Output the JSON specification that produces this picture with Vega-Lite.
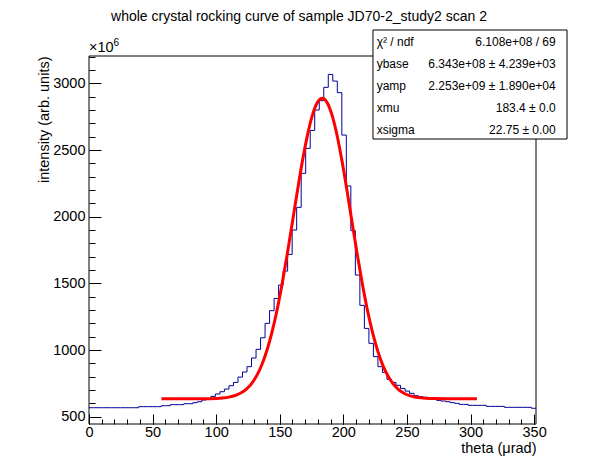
{
  "$schema": "https://vega.github.io/schema/vega-lite/v6.json",
  "width": 447,
  "height": 368,
  "autosize": "none",
  "padding": {"left": 89, "top": 56, "right": 60, "bottom": 48},
  "background": "white",
  "title": {
    "text": "whole crystal rocking curve of sample JD70-2_study2 scan 2",
    "font": "Liberation Sans",
    "fontSize": 14,
    "fontWeight": "normal",
    "color": "black",
    "anchor": "middle",
    "frame": "group",
    "dx": -13.5,
    "dy": 16,
    "offset": 11,
    "baseline": "alphabetic"
  },
  "config": {
    "view": {"stroke": null},
    "font": "Liberation Sans",
    "text": {"font": "Liberation Sans", "color": "black"}
  },
  "datasets": {
    "hist": [
      {"theta": 0, "intensity": 567}, {"theta": 3.55, "intensity": 567}, {"theta": 7.1, "intensity": 567},
      {"theta": 10.65, "intensity": 567}, {"theta": 14.2, "intensity": 567}, {"theta": 17.75, "intensity": 567},
      {"theta": 21.3, "intensity": 567}, {"theta": 24.85, "intensity": 567}, {"theta": 28.4, "intensity": 567},
      {"theta": 31.95, "intensity": 567}, {"theta": 35.5, "intensity": 567}, {"theta": 39.05, "intensity": 575},
      {"theta": 42.6, "intensity": 575}, {"theta": 46.15, "intensity": 575}, {"theta": 49.7, "intensity": 575},
      {"theta": 53.25, "intensity": 575}, {"theta": 56.8, "intensity": 582}, {"theta": 60.35, "intensity": 582},
      {"theta": 63.9, "intensity": 590}, {"theta": 67.45, "intensity": 590}, {"theta": 71.0, "intensity": 590},
      {"theta": 74.55, "intensity": 597}, {"theta": 78.1, "intensity": 597}, {"theta": 81.65, "intensity": 605},
      {"theta": 85.2, "intensity": 612}, {"theta": 88.75, "intensity": 625}, {"theta": 92.3, "intensity": 635},
      {"theta": 95.85, "intensity": 652}, {"theta": 99.4, "intensity": 670}, {"theta": 102.95, "intensity": 687},
      {"theta": 106.5, "intensity": 707}, {"theta": 110.05, "intensity": 732}, {"theta": 113.6, "intensity": 757},
      {"theta": 117.15, "intensity": 797}, {"theta": 120.7, "intensity": 835}, {"theta": 124.25, "intensity": 875},
      {"theta": 127.8, "intensity": 940}, {"theta": 131.35, "intensity": 1005}, {"theta": 134.9, "intensity": 1092},
      {"theta": 138.45, "intensity": 1200}, {"theta": 142.0, "intensity": 1295}, {"theta": 145.55, "intensity": 1387},
      {"theta": 149.1, "intensity": 1487}, {"theta": 152.65, "intensity": 1592}, {"theta": 156.2, "intensity": 1717},
      {"theta": 159.75, "intensity": 1900}, {"theta": 163.3, "intensity": 2070}, {"theta": 166.85, "intensity": 2325},
      {"theta": 170.4, "intensity": 2512}, {"theta": 173.95, "intensity": 2647}, {"theta": 177.5, "intensity": 2800},
      {"theta": 181.05, "intensity": 2870}, {"theta": 184.6, "intensity": 2970}, {"theta": 188.15, "intensity": 3067},
      {"theta": 191.7, "intensity": 3017}, {"theta": 195.25, "intensity": 2930}, {"theta": 198.8, "intensity": 2612},
      {"theta": 202.35, "intensity": 2230}, {"theta": 205.9, "intensity": 1895}, {"theta": 209.45, "intensity": 1562},
      {"theta": 213.0, "intensity": 1335}, {"theta": 216.55, "intensity": 1162}, {"theta": 220.1, "intensity": 1050},
      {"theta": 223.65, "intensity": 950}, {"theta": 227.2, "intensity": 875}, {"theta": 230.75, "intensity": 832},
      {"theta": 234.3, "intensity": 780}, {"theta": 237.85, "intensity": 757}, {"theta": 241.4, "intensity": 735},
      {"theta": 244.95, "intensity": 712}, {"theta": 248.5, "intensity": 692}, {"theta": 252.05, "intensity": 675},
      {"theta": 255.6, "intensity": 657}, {"theta": 259.15, "intensity": 650}, {"theta": 262.7, "intensity": 645},
      {"theta": 266.25, "intensity": 635}, {"theta": 269.8, "intensity": 635}, {"theta": 273.35, "intensity": 622},
      {"theta": 276.9, "intensity": 617}, {"theta": 280.45, "intensity": 612}, {"theta": 284.0, "intensity": 605},
      {"theta": 287.55, "intensity": 600}, {"theta": 291.1, "intensity": 592}, {"theta": 294.65, "intensity": 592},
      {"theta": 298.2, "intensity": 585}, {"theta": 301.75, "intensity": 585}, {"theta": 305.3, "intensity": 585},
      {"theta": 308.85, "intensity": 585}, {"theta": 312.4, "intensity": 577}, {"theta": 315.95, "intensity": 577},
      {"theta": 319.5, "intensity": 577}, {"theta": 323.05, "intensity": 577}, {"theta": 326.6, "intensity": 570},
      {"theta": 330.15, "intensity": 570}, {"theta": 333.7, "intensity": 570}, {"theta": 337.25, "intensity": 570},
      {"theta": 340.8, "intensity": 570}, {"theta": 344.35, "intensity": 570}, {"theta": 347.9, "intensity": 563},
      {"theta": 351.45, "intensity": 563}
    ],
    "fit": [
      {"theta": 57, "intensity": 634.3}, {"theta": 70, "intensity": 634.3}, {"theta": 80, "intensity": 634.4},
      {"theta": 90, "intensity": 634.8}, {"theta": 100, "intensity": 637.0}, {"theta": 105, "intensity": 640.2},
      {"theta": 110, "intensity": 646.7}, {"theta": 115, "intensity": 658.8}, {"theta": 120, "intensity": 680.7},
      {"theta": 124, "intensity": 708.9}, {"theta": 128, "intensity": 750.4}, {"theta": 132, "intensity": 809.8},
      {"theta": 136, "intensity": 891.4}, {"theta": 140, "intensity": 999.5}, {"theta": 144, "intensity": 1137.1},
      {"theta": 148, "intensity": 1305.7}, {"theta": 152, "intensity": 1503.4}, {"theta": 156, "intensity": 1725.1},
      {"theta": 160, "intensity": 1961.7}, {"theta": 164, "intensity": 2200.5}, {"theta": 168, "intensity": 2426.0},
      {"theta": 172, "intensity": 2621.4}, {"theta": 176, "intensity": 2771.2}, {"theta": 180, "intensity": 2862.3},
      {"theta": 183.4, "intensity": 2887.3}, {"theta": 187, "intensity": 2859.3}, {"theta": 191, "intensity": 2765.0},
      {"theta": 195, "intensity": 2612.7}, {"theta": 199, "intensity": 2415.3}, {"theta": 203, "intensity": 2188.8},
      {"theta": 207, "intensity": 1949.8}, {"theta": 211, "intensity": 1713.6}, {"theta": 215, "intensity": 1492.9},
      {"theta": 219, "intensity": 1296.5}, {"theta": 223, "intensity": 1129.5}, {"theta": 227, "intensity": 993.4},
      {"theta": 231, "intensity": 886.7}, {"theta": 235, "intensity": 806.3}, {"theta": 239, "intensity": 747.9},
      {"theta": 243, "intensity": 707.1}, {"theta": 247, "intensity": 679.5}, {"theta": 252, "intensity": 658.2},
      {"theta": 257, "intensity": 646.3}, {"theta": 261, "intensity": 641.0}, {"theta": 265, "intensity": 637.9},
      {"theta": 272, "intensity": 635.4}, {"theta": 280, "intensity": 634.6}, {"theta": 290, "intensity": 634.3},
      {"theta": 305, "intensity": 634.3}
    ],
    "stats": [
      {
        "labels": "χ² / ndf\nybase\nyamp\nxmu\nxsigma",
        "values": "6.108e+08 / 69\n6.343e+08 ± 4.239e+03\n2.253e+09 ± 1.890e+04\n183.4 ± 0.0\n22.75 ± 0.00"
      }
    ]
  },
  "resolve": {"axis": {"x": "independent", "y": "independent"}},
  "layer": [
    {
      "data": {"values": [{}]},
      "mark": {"type": "rect", "filled": false, "stroke": "black", "strokeWidth": 1},
      "encoding": {
        "x": {
          "datum": 0,
          "type": "quantitative",
          "scale": {"domain": [0, 351.5], "nice": false, "zero": false},
          "axis": {
            "orient": "bottom",
            "values": [0, 10, 20, 30, 40, 50, 60, 70, 80, 90, 100, 110, 120, 130, 140, 150, 160, 170, 180, 190, 200, 210, 220, 230, 240, 250, 260, 270, 280, 290, 300, 310, 320, 330, 340, 350],
            "labels": false,
            "domain": false,
            "grid": false,
            "tickColor": "black",
            "tickSize": 5,
            "offset": -5,
            "title": null
          }
        },
        "x2": {"datum": 351.5},
        "y": {
          "datum": 445,
          "type": "quantitative",
          "scale": {"domain": [445, 3205], "nice": false, "zero": false},
          "axis": {
            "orient": "left",
            "values": [500, 600, 700, 800, 900, 1000, 1100, 1200, 1300, 1400, 1500, 1600, 1700, 1800, 1900, 2000, 2100, 2200, 2300, 2400, 2500, 2600, 2700, 2800, 2900, 3000, 3100, 3200],
            "labels": false,
            "domain": false,
            "grid": false,
            "tickColor": "black",
            "tickSize": 6,
            "offset": -6,
            "title": null
          }
        },
        "y2": {"datum": 3205}
      }
    },
    {
      "layer": [
        {
          "data": {"name": "hist"},
          "mark": {"type": "line", "interpolate": "step-after", "color": "#000099", "strokeWidth": 1},
          "encoding": {
            "x": {
              "field": "theta",
              "type": "quantitative",
              "title": "theta (μrad)",
              "scale": {"domain": [0, 351.5], "nice": false, "zero": false},
              "axis": {
                "orient": "bottom",
                "values": [0, 50, 100, 150, 200, 250, 300, 350],
                "format": "d",
                "labelFontSize": 14.5,
                "labelColor": "black",
                "labelPadding": 1.5,
                "labelOverlap": false,
                "labelFlush": false,
                "labelBound": false,
                "tickColor": "black",
                "tickSize": 10,
                "offset": -10,
                "domain": false,
                "grid": false,
                "titleFontSize": 14.5,
                "titleFontWeight": "normal",
                "titleColor": "black",
                "titleAnchor": "end",
                "titlePadding": 2
              }
            },
            "y": {
              "field": "intensity",
              "type": "quantitative",
              "title": "intensity (arb. units)",
              "scale": {"domain": [445, 3205], "nice": false, "zero": false},
              "axis": {
                "orient": "left",
                "values": [500, 1000, 1500, 2000, 2500, 3000],
                "format": "d",
                "labelFontSize": 14.5,
                "labelColor": "black",
                "labelPadding": 4,
                "labelOverlap": false,
                "labelFlush": false,
                "labelBound": false,
                "tickColor": "black",
                "tickSize": 12,
                "offset": -12,
                "domain": false,
                "grid": false,
                "titleFontSize": 14.5,
                "titleFontWeight": "normal",
                "titleColor": "black",
                "titleAnchor": "end",
                "titlePadding": 1
              }
            }
          }
        },
        {
          "data": {"name": "fit"},
          "mark": {"type": "line", "interpolate": "monotone", "color": "#ff0000", "strokeWidth": 3},
          "encoding": {
            "x": {"field": "theta", "type": "quantitative", "title": "theta (μrad)"},
            "y": {"field": "intensity", "type": "quantitative", "title": "intensity (arb. units)"}
          }
        },
        {
          "data": {"values": [{}]},
          "mark": {"type": "rect", "fill": "white", "stroke": "black", "strokeWidth": 1},
          "encoding": {
            "x": {"datum": 223.3, "type": "quantitative", "title": "theta (μrad)"},
            "x2": {"datum": 375.9},
            "y": {"datum": 3400, "type": "quantitative", "title": "intensity (arb. units)"},
            "y2": {"datum": 2582.5}
          }
        },
        {
          "data": {"name": "stats"},
          "mark": {"type": "text", "align": "left", "baseline": "alphabetic", "fontSize": 12, "lineBreak": "\n", "lineHeight": 22.1},
          "encoding": {
            "x": {"datum": 226.2, "type": "quantitative", "title": "theta (μrad)"},
            "y": {"datum": 3281.5, "type": "quantitative", "title": "intensity (arb. units)"},
            "text": {"field": "labels"}
          }
        },
        {
          "data": {"name": "stats"},
          "mark": {"type": "text", "align": "right", "baseline": "alphabetic", "fontSize": 12, "lineBreak": "\n", "lineHeight": 22.1},
          "encoding": {
            "x": {"datum": 367.0, "type": "quantitative", "title": "theta (μrad)"},
            "y": {"datum": 3281.5, "type": "quantitative", "title": "intensity (arb. units)"},
            "text": {"field": "values"}
          }
        },
        {
          "data": {"values": [{}]},
          "mark": {"type": "text", "text": "×10", "align": "left", "baseline": "alphabetic", "fontSize": 14.5, "dy": -4},
          "encoding": {
            "x": {"datum": 0, "type": "quantitative", "title": "theta (μrad)"},
            "y": {"datum": 3205, "type": "quantitative", "title": "intensity (arb. units)"}
          }
        },
        {
          "data": {"values": [{}]},
          "mark": {"type": "text", "text": "6", "align": "left", "baseline": "alphabetic", "fontSize": 10, "dx": 24.6, "dy": -10},
          "encoding": {
            "x": {"datum": 0, "type": "quantitative", "title": "theta (μrad)"},
            "y": {"datum": 3205, "type": "quantitative", "title": "intensity (arb. units)"}
          }
        }
      ]
    }
  ]
}
